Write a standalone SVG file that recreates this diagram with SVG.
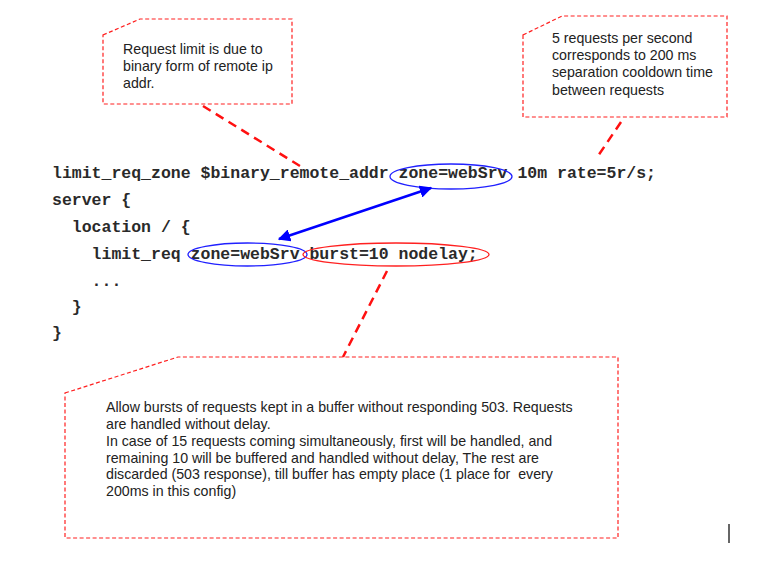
<svg xmlns="http://www.w3.org/2000/svg" width="766" height="561" viewBox="0 0 766 561">
<defs>
<style>
.note{fill:#fff;stroke:#ff2020;stroke-width:1.2;stroke-dasharray:4 2.5}
.nt{font-family:"Liberation Sans",Arial,sans-serif;font-size:14.2px;fill:#222;white-space:pre}
.code{font-family:"Liberation Mono","Courier New",monospace;font-weight:bold;font-size:16.5px;fill:#2a2a2a;white-space:pre}
.lead{stroke:#ff1010;stroke-width:2.5;stroke-dasharray:9 6;fill:none}
.ell{fill:none;stroke-width:1.3}
</style>
<marker id="ah" viewBox="0 0 10 10" refX="9" refY="5" markerWidth="5" markerHeight="5" orient="auto-start-reverse" markerUnits="strokeWidth">
<path d="M0,0 L10,5 L0,10 z" fill="#0000ff"/>
</marker>
</defs>
<rect width="766" height="561" fill="#fff"/>

<g id="note-remote-addr">
<polygon class="note" points="103,35 140,19 292,19 292,104 103,104"/>
<text class="nt" x="123" y="54">Request limit is due to</text>
<text class="nt" x="123" y="71">binary form of remote ip</text>
<text class="nt" x="123" y="88">addr.</text>
</g>

<g id="note-rate">
<polygon class="note" points="523,35 562,16 727,16 727,117 523,117"/>
<text class="nt" x="552" y="43">5 requests per second</text>
<text class="nt" x="552" y="60">corresponds to 200 ms</text>
<text class="nt" x="552" y="77">separation cooldown time</text>
<text class="nt" x="552" y="95">between requests</text>
</g>

<g id="code">
<text class="code" x="52" y="178">limit_req_zone $binary_remote_addr zone=webSrv 10m rate=5r/s;</text>
<text class="code" x="52" y="205">server {</text>
<text class="code" x="52" y="232">  location / {</text>
<text class="code" x="52" y="259">    limit_req zone=webSrv burst=10 nodelay;</text>
<text class="code" x="52" y="286">    ...</text>
<text class="code" x="52" y="312">  }</text>
<text class="code" x="52" y="338">}</text>
</g>

<g id="highlights">
<ellipse id="zone-def" class="ell" cx="451" cy="176.5" rx="61" ry="12.5" stroke="#2020ff"/>
<ellipse id="zone-use" class="ell" cx="247.5" cy="254.5" rx="59.5" ry="11.5" stroke="#2020ff"/>
<ellipse id="burst" class="ell" cx="396" cy="254.5" rx="93" ry="11.5" stroke="#ff2020"/>
</g>

<g id="note-burst">
<polygon class="note" points="65,393 178,357 618,357 618,538 65,538"/>
<text class="nt" x="106" y="412">Allow bursts of requests kept in a buffer without responding 503. Requests</text>
<text class="nt" x="106" y="429">are handled without delay.</text>
<text class="nt" x="106" y="446">In case of 15 requests coming simultaneously, first will be handled, and</text>
<text class="nt" x="106" y="463">remaining 10 will be buffered and handled without delay, The rest are</text>
<text class="nt" x="106" y="479">discarded (503 response), till buffer has empty place (1 place for  every</text>
<text class="nt" x="106" y="496">200ms in this config)</text>
</g>

<g id="connectors">
<line class="lead" x1="203" y1="106" x2="300" y2="166"/>
<line class="lead" x1="621" y1="122" x2="598" y2="156"/>
<line class="lead" x1="387" y1="271" x2="343" y2="357"/>
<line x1="279" y1="239" x2="431" y2="188" stroke="#0000ff" stroke-width="2.5" marker-start="url(#ah)" marker-end="url(#ah)"/>
</g>

<line x1="729" y1="524" x2="729" y2="543" stroke="#333" stroke-width="1.5"/>
</svg>
